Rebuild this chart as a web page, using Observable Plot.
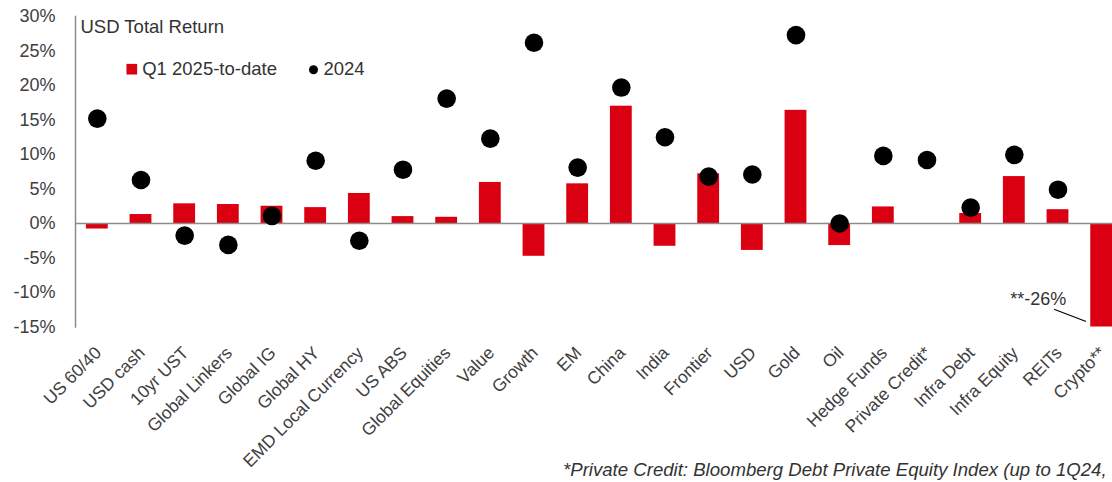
<!DOCTYPE html>
<html><head><meta charset="utf-8">
<script src="https://cdn.jsdelivr.net/npm/d3@7"></script>
<script src="https://cdn.jsdelivr.net/npm/@observablehq/plot@0.6"></script>
<style>
body{margin:0;background:#fff;font-family:"Liberation Sans",Arial,sans-serif;}
#wrap{position:relative;width:1112px;height:482px;overflow:hidden;}
#chart{width:1112px;height:440px;}
#caption{position:absolute;left:563px;top:460px;font-size:18.6px;line-height:20px;font-style:italic;color:#333;white-space:nowrap;}
</style></head><body>
<div id="wrap"><div id="chart"></div><div id="caption">*Private Credit: Bloomberg Debt Private Equity Index (up to 1Q24,</div></div>
<script>
const categories = ["US 60/40","USD cash","10yr UST","Global Linkers","Global IG","Global HY","EMD Local Currency","US ABS","Global Equities","Value","Growth","EM","China","India","Frontier","USD","Gold","Oil","Hedge Funds","Private Credit*","Infra Debt","Infra Equity","REITs","Crypto**"];
const q1_2025 = [-0.8, 1.3, 2.85, 2.75, 2.5, 2.3, 4.35, 1.0, 0.9, 5.95, -4.75, 5.75, 17.0, -3.3, 7.2, -3.9, 16.4, -3.2, 2.4, null, 1.45, 6.8, 2.0, -26];
const y2024 = [15.2, 6.3, -1.75, -3.1, 1.1, 9.1, -2.5, 7.8, 18.1, 12.3, 26.2, 8.1, 19.7, 12.5, 6.8, 7.1, 27.3, 0.0, 9.8, 9.2, 2.3, 9.95, 4.9, null];
const yTicks = [-15, -10, -5, 0, 5, 10, 15, 20, 25, 30];
const seriesNames = ["Q1 2025-to-date", "2024"];
const titleText = "USD Total Return";
const cryptoNote = {cat: "Crypto**", label: "**-26%", textY: -11.0, lineY: -12.46};

const RED = "#db0011";
const bars = categories.map((c, i) => ({cat: c, v: q1_2025[i]})).filter(d => d.v != null);
const dots = categories.map((c, i) => ({cat: c, v: y2024[i]})).filter(d => d.v != null);

const lineShape = {draw(context, l) { context.moveTo(0, 0); context.lineTo(0, -l); }};

const chart = Plot.plot({
  width: 1112,
  height: 440,
  marginTop: 16,
  marginBottom: 113.5,
  marginLeft: 75,
  marginRight: 0,
  style: {fontFamily: "'Liberation Sans', Arial, sans-serif", fontSize: "17px", color: "#404040", background: "transparent", overflow: "visible"},
  x: {domain: categories, range: [75, 1123], paddingInner: 0.5, paddingOuter: 0.25, align: 0.5, round: false},
  y: {domain: [-15, 30], clamp: true},
  marks: [
    Plot.barY(bars, {x: "cat", y: "v", fill: RED}),
    Plot.ruleY([0], {stroke: "#8c8c8c", strokeWidth: 1.5}),
    Plot.frame({anchor: "left", stroke: "#8c8c8c", strokeWidth: 1.5}),
    Plot.axisY(yTicks, {tickSize: 0, tickPadding: 20, tickFormat: d => d + "%", fontSize: 18, fill: "#404040", label: null}),
    Plot.axisX({tickRotate: -45, tickSize: 0, tickPadding: 23, dx: 1, fontSize: 17.5, fill: "#404040", label: null}),
    Plot.dot(dots, {x: "cat", y: "v", r: 9.3, fill: "#000"}),
    Plot.text([titleText], {frameAnchor: "top-left", dx: 5, dy: 11, text: d => d, textAnchor: "start", lineAnchor: "middle", fontSize: 18.5, fill: "#333"}),
    Plot.dot([seriesNames[0]], {frameAnchor: "top-left", dx: 56.3, dy: 52.7, symbol: "square", r: 6, fill: RED}),
    Plot.text([seriesNames[0]], {frameAnchor: "top-left", dx: 66.7, dy: 53, text: d => d, textAnchor: "start", lineAnchor: "middle", fontSize: 18.5, fill: "#333"}),
    Plot.dot([seriesNames[1]], {frameAnchor: "top-left", dx: 238, dy: 53.3, r: 4.5, fill: "#000"}),
    Plot.text([seriesNames[1]], {frameAnchor: "top-left", dx: 248, dy: 53, text: d => d, textAnchor: "start", lineAnchor: "middle", fontSize: 18.5, fill: "#333"}),
    Plot.text([cryptoNote], {x: "cat", y: "textY", text: "label", dx: -63.5, fontSize: 18, fill: "#333"}),
    Plot.vector([cryptoNote], {x: "cat", y: "lineY", dx: -47, length: 33, rotate: 111, anchor: "start", shape: lineShape, stroke: "#000", strokeWidth: 1.2})
  ]
});
document.getElementById("chart").appendChild(chart);
</script>
</body></html>
